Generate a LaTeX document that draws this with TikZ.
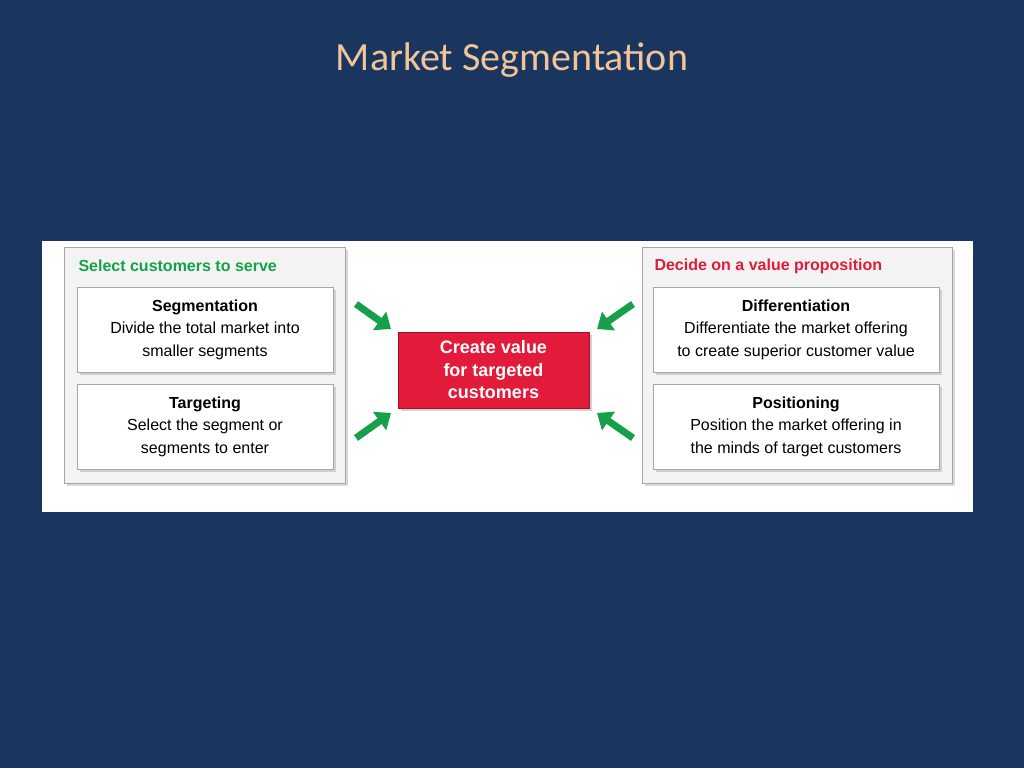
\documentclass[tikz,border=0pt]{standalone}
\usepackage{fontspec}
\setmainfont{Liberation Sans}
\newfontfamily\titlefont{Carlito}
\usetikzlibrary{arrows.meta,shadows}
\definecolor{bg}{HTML}{1A365E}
\definecolor{ttl}{HTML}{F2C49B}
\definecolor{grn}{HTML}{17A04A}
\definecolor{rd}{HTML}{E31B3A}
\definecolor{panel}{HTML}{F3F3F3}
\begin{document}
\begin{tikzpicture}[x=1pt,y=-1pt,
  outer/.style={draw=gray!70,fill=panel,line width=0.8pt,drop shadow={shadow xshift=3pt,shadow yshift=-3pt,opacity=0.3}},
  inner/.style={draw=gray!70,fill=white,line width=0.8pt,minimum width=256pt,minimum height=85pt,align=center,font=\fontsize{16}{22.5}\selectfont,drop shadow={shadow xshift=3pt,shadow yshift=-3pt,opacity=0.3}},
  grp/.style={font=\bfseries\fontsize{16}{19}\selectfont},
  garrow/.style={draw=grn,line width=7pt,-{Triangle[length=14pt,width=22pt]}}]
\useasboundingbox (0,0) rectangle (1024,768);
\fill[bg] (0,0) rectangle (1024,768);
\node[font=\titlefont\fontsize{40}{44}\selectfont,text=ttl] (title) at (512,60) {Market Segmentation};
\fill[white] (42,241) rectangle (973,512);
% left group
\path[outer] (64,247) rectangle (345,483);
\node[grp,text=grn,anchor=west] (lt) at (75,266) {Select customers to serve};
\node[inner,minimum width=256pt] (seg) at (205,329.5) {\textbf{Segmentation}\\Divide the total market into\\smaller segments};
\node[inner,minimum width=256pt] (tar) at (205,426.5) {\textbf{Targeting}\\Select the segment or\\segments to enter};
% right group
\path[outer] (642,247) rectangle (952,483);
\node[grp,text=rd,anchor=west] (rt) at (651,266) {Decide on a value proposition};
\node[inner,minimum width=286pt] (dif) at (796,329.5) {\textbf{Differentiation}\\Differentiate the market offering\\to create superior customer value};
\node[inner,minimum width=286pt] (pos) at (796,426.5) {\textbf{Positioning}\\Position the market offering in\\the minds of target customers};
% center
\node[draw=rd!70!black,fill=rd,text=white,minimum width=191pt,minimum height=76pt,align=center,font=\bfseries\fontsize{18}{22.5}\selectfont,drop shadow={shadow xshift=3pt,shadow yshift=-3pt,opacity=0.35}] (cv) at (493.5,370) {Create value\\for targeted\\customers};
% arrows
\coordinate (a1) at (356,304); \coordinate (b1) at (391,329);
\coordinate (a2) at (356,438); \coordinate (b2) at (391,413);
\coordinate (a3) at (633,304); \coordinate (b3) at (597,329);
\coordinate (a4) at (633,438); \coordinate (b4) at (597,413);
\draw[garrow] (a1) -- (b1);
\draw[garrow] (a2) -- (b2);
\draw[garrow] (a3) -- (b3);
\draw[garrow] (a4) -- (b4);
\end{tikzpicture}
\end{document}
